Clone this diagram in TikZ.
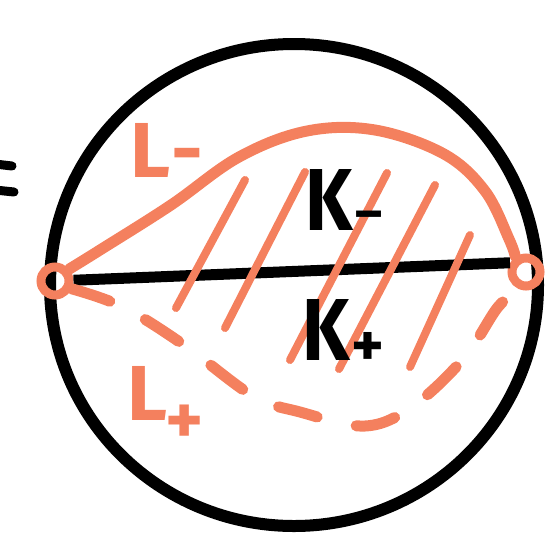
\documentclass[tikz,border=0pt]{standalone}
\usepackage{fontspec}
\newfontfamily\handfont{Fira Sans}
\definecolor{lineorange}{RGB}{244,128,94}

\begin{document}
\begin{tikzpicture}[x=1pt, y=-1pt,
    rim/.style={draw=black, line width=12pt, line cap=round, line join=round},
    chord/.style={draw=black, line width=11pt, line cap=butt},
    lcurve/.style={draw=lineorange, line width=11pt, line cap=round},
    hatchline/.style={draw=lineorange, line width=8pt, line cap=round},
    endpt/.style={circle, draw=lineorange, line width=9pt, minimum size=28pt, inner sep=0pt},
    klabel/.style={font=\handfont\bfseries\fontsize{88}{88}\selectfont, text=black, inner sep=0pt},
    llabel/.style={font=\handfont\bfseries\fontsize{78}{78}\selectfont, text=lineorange, inner sep=0pt}
]
\useasboundingbox (0,0) rectangle (551,536);

% cut-off equals sign at the left edge
\draw[rim, line width=9pt] (-5,164) -- (12,166);
\draw[rim, line width=9pt] (-5,190) -- (14,192);

% the disc
\draw[rim] (294,285) ellipse [x radius=244, y radius=241];

% boundary points
\node[endpt] (pl) at (55,281) {};
\node[endpt] (pr) at (526,272) {};

% chord
\draw[chord] (pl) -- (pr.150);

% hatching
\foreach \xa/\ya/\xb/\yb in {176/308/245/180, 225/328/305/172, 290/360/387/173,
                             339/369/435/185, 410/367/470/235}
    \draw[hatchline] (\xa,\ya) -- (\xb,\yb);

% L- and L+
\draw[lcurve] plot[smooth, tension=0.6] coordinates {
    (pl.40) (100,250) (171,205) (239,157) (307,131) (375,130)
    (444,154) (485,191) (509,239) (pr.125)};
\draw[lcurve, dash pattern=on 40pt off 40pt] plot[smooth, tension=0.6] coordinates {
    (pl.-25) (123,307) (184,345) (253,396) (300,412) (365,426)
    (413,406) (464,358) (498,307) (pr.-110)};

% labels
\node[klabel, anchor=base west] (kminus) at (305,230)
    {\scalebox{0.85}[1]{K}\kern3pt{\fontsize{52}{52}\selectfont\textendash}};
\node[klabel, anchor=base west] (kplus) at (302,360)
    {\scalebox{0.85}[1]{K}\kern2pt\raisebox{-6pt}{\fontsize{62}{62}\selectfont +}};
\node[llabel, anchor=base west] (lminus) at (130,177) {L\kern1pt-};
\node[llabel, anchor=base west] (lplus) at (127,420)
    {L\kern-2pt\raisebox{-24pt}{\fontsize{72}{72}\selectfont +}};
\end{tikzpicture}
\end{document}
